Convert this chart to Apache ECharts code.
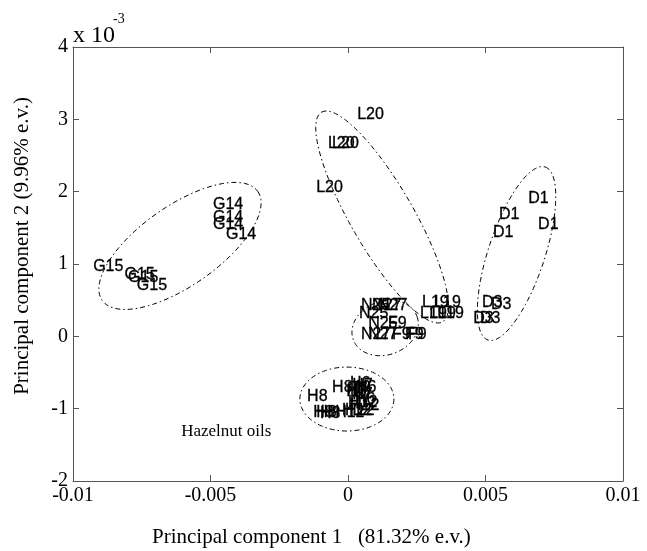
<!DOCTYPE html>
<html>
<head>
<meta charset="utf-8">
<script src="https://cdn.jsdelivr.net/npm/echarts@6/dist/echarts.min.js"></script>
<style>
  html, body { margin: 0; padding: 0; background: #fff; }
  #chart { width: 647px; height: 551px; }
</style>
</head>
<body>
<div id="chart"></div>
<script>
// sample labels, PC1 scores, PC2 scores (x 10^-3)
const labelNames = [
    'L20', 'L20', 'L20', 'L20',
    'G14', 'G14', 'G14', 'G14',
    'G15', 'G15', 'G15', 'G15',
    'D1', 'D1', 'D1', 'D1',
    'D3', 'D3', 'D3', 'D3',
    'L19', 'L19', 'L19', 'L19', 'L19',
    'N25', 'N27', 'N27', 'N25', 'N25', 'F9', 'N27', 'N27', 'F9', 'F9', 'F9',
    'H8', 'H8', 'H6', 'H7', 'H7', 'H6', 'H12', 'H12', 'H8', 'H8', 'H8', 'H12', 'H12', 'H7', 'H6',
    'H7', 'H6', 'H12'
];
const pc1 = [
    0.00033, -0.00073, -0.00058, -0.00116,
    -0.00491, -0.00491, -0.00491, -0.00444,
    -0.00927, -0.00813, -0.00800, -0.00768,
    0.00655, 0.00549, 0.00527, 0.00691,
    0.00487, 0.00520, 0.00455, 0.00480,
    0.00269, 0.00313, 0.00262, 0.00295, 0.00324,
    0.00047, 0.00087, 0.00109, 0.00040, 0.00073, 0.00145, 0.00047, 0.00073, 0.00160, 0.00207, 0.00218,
    -0.00149, -0.00058, 0.00007, -0.00004, 0.00015, 0.00029, 0.00000, -0.00011, -0.00127, -0.00116, -0.00102, -0.00047, -0.00022, 0.00007, 0.00025,
    0.00015, -0.00007, 0.00007
];
const pc2 = [
    3.07, 2.67, 2.67, 2.06,
    1.82, 1.64, 1.55, 1.40,
    0.96, 0.85, 0.81, 0.70,
    1.91, 1.68, 1.44, 1.54,
    0.46, 0.44, 0.25, 0.25,
    0.46, 0.46, 0.32, 0.32, 0.32,
    0.43, 0.43, 0.43, 0.32, 0.18, 0.18, 0.03, 0.03, 0.03, 0.03, 0.03,
    -0.83, -0.71, -0.65, -0.74, -0.81, -0.71, -0.92, -1.02, -1.06, -1.06, -1.07, -1.05, -1.02, -0.85, -0.88,
    -0.68, -0.77, -0.96
];

// group ellipses: centre, semi-major axis vector (data units), minor/major ratio
const ellipseCx = [-0.00611, 0.00124, 0.00613, 0.00135, -0.00004];
const ellipseCy = [1.25, 1.65, 1.145, 0.115, -0.867];
const ellipseAx = [0.00283, -0.00220, 0.00104, 0.00116, 0.00171];
const ellipseAy = [0.753, 1.449, 1.196, 0.16, 0];
const ellipseRatio = [0.42, 0.26, 0.31, 0.79, 0.68];

const noteText = ['Hazelnut oils'];
const noteX = [-0.00607];
const noteY = [-1.31];

const xTicks = { min: -0.01, max: 0.01, interval: 0.005 };
const yTicks = { min: -2, max: 4, interval: 1 };

const serif = 'Liberation Serif';
const axisColor = '#555';

const pointData = labelNames.map((n, i) => ({ name: n, value: [pc1[i], pc2[i]] }));
const ellipseData = ellipseCx.map((cx, i) => [cx, ellipseCy[i], ellipseAx[i], ellipseAy[i], ellipseRatio[i]]);
const noteData = noteText.map((n, i) => ({ name: n, value: [noteX[i], noteY[i]] }));

function renderEllipse(params, api) {
    const c = api.coord([api.value(0), api.value(1)]);
    const e = api.coord([api.value(0) + api.value(2), api.value(1) + api.value(3)]);
    const ux = e[0] - c[0], uy = e[1] - c[1];
    const r = api.value(4);
    const vx = -uy * r, vy = ux * r;
    const pts = [];
    for (let k = 0; k <= 120; k++) {
        const t = k / 120 * Math.PI * 2;
        pts.push([c[0] + ux * Math.cos(t) + vx * Math.sin(t), c[1] + uy * Math.cos(t) + vy * Math.sin(t)]);
    }
    return {
        type: 'polyline',
        shape: { points: pts },
        style: { stroke: '#000', fill: null, lineWidth: 1, lineDash: [5, 3, 1.5, 3] }
    };
}

function textLabels(font, size, border) {
    return {
        show: true,
        formatter: '{b}',
        position: 'right',
        distance: 0,
        align: 'left',
        verticalAlign: 'middle',
        color: '#000',
        opacity: 1,
        textBorderColor: '#000',
        textBorderWidth: border,
        fontFamily: font,
        fontSize: size
    };
}

const axisCommon = {
    type: 'value',
    splitLine: { show: false },
    axisLine: { show: true, onZero: false, lineStyle: { color: axisColor, width: 1 } },
    axisTick: { show: true, inside: true, length: 6, lineStyle: { color: axisColor } }
};

const chart = echarts.init(document.getElementById('chart'));
chart.setOption({
    animation: false,
    backgroundColor: '#fff',
    grid: { left: 73, right: 24, top: 47, bottom: 70 },
    xAxis: [
        Object.assign({}, axisCommon, xTicks, {
            position: 'bottom',
            axisLabel: { color: '#000', fontFamily: serif, fontSize: 20, margin: 5 }
        }),
        Object.assign({}, axisCommon, xTicks, {
            position: 'top',
            axisLabel: { show: false }
        })
    ],
    yAxis: [
        Object.assign({}, axisCommon, yTicks, {
            position: 'left',
            axisLabel: { color: '#000', fontFamily: serif, fontSize: 20, margin: 5 }
        }),
        Object.assign({}, axisCommon, yTicks, {
            position: 'right',
            axisLabel: { show: false }
        })
    ],
    graphic: [
        { type: 'text', left: 73, top: 24, style: { text: 'x 10', font: '24px "Liberation Serif"', fill: '#000' } },
        { type: 'text', left: 113, top: 12, style: { text: '-3', font: '14px "Liberation Serif"', fill: '#000' } },
        { type: 'text', left: 152, top: 527, style: { text: 'Principal component 1   (81.32% e.v.)', font: '21px "Liberation Serif"', fill: '#000' } },
        { type: 'text', left: 12, top: 97, rotation: Math.PI / 2, originX: 0, originY: 0,
          style: { text: 'Principal component 2 (9.96% e.v.)', font: '21px "Liberation Serif"', fill: '#000' } }
    ],
    series: [
        {
            type: 'custom',
            renderItem: renderEllipse,
            data: ellipseData,
            encode: { x: 0, y: 1 },
            silent: true,
            z: 1
        },
        {
            type: 'scatter',
            data: pointData,
            symbolSize: 0.1,
            itemStyle: { color: 'rgba(255,255,255,0)' },
            label: textLabels('Liberation Sans', 16, 0.3),
            labelLayout: { hideOverlap: false },
            silent: true,
            z: 2
        },
        {
            type: 'scatter',
            data: noteData,
            symbolSize: 0.1,
            itemStyle: { color: 'rgba(255,255,255,0)' },
            label: textLabels(serif, 17, 0),
            silent: true,
            z: 2
        }
    ]
});
</script>
</body>
</html>
